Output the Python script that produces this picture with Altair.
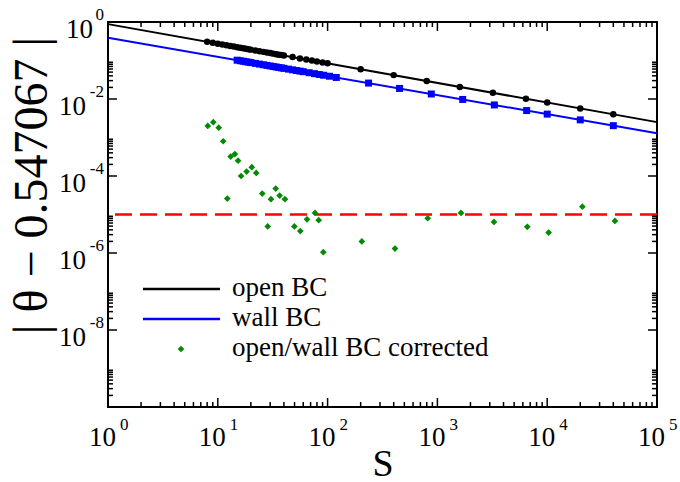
import altair as alt
import pandas as pd

# ---------------- data ----------------
OPEN_S = [8, 9, 10, 11, 12, 13, 14, 15, 16, 17, 18, 19, 20, 22, 24, 26, 28, 30, 32, 34, 36, 38, 40,
          48, 56, 64, 72, 80, 90, 100, 200, 400, 800, 1600, 3200, 6400, 10000, 20000, 40000]
OPEN_V = [0.305, 0.288, 0.2726, 0.2597, 0.2485, 0.2385, 0.2297, 0.2218, 0.2146, 0.2081, 0.2021, 0.1966, 0.1916,
          0.1825, 0.1746, 0.1676, 0.1614, 0.1558, 0.1508, 0.1462, 0.1420, 0.1381, 0.1346,
          0.1227, 0.1134, 0.1059, 0.0998, 0.0946, 0.0891, 0.0844,
          0.0593, 0.0417, 0.0293, 0.0206, 0.01446, 0.01017, 0.00810, 0.00569, 0.00400]

WALL_S = [15, 16, 17, 18, 19, 20, 22, 24, 26, 28, 30, 32, 34, 36, 38, 40, 44, 48, 52, 56, 60,
          68, 76, 84, 92, 104, 120, 236, 452, 880, 1700, 3300, 6500, 10000, 20000, 40000]
WALL_V = [0.1018, 0.0986, 0.0956, 0.0930, 0.0905, 0.0882,
          0.0842, 0.0806, 0.0775, 0.0747, 0.0722, 0.0699, 0.0678, 0.0659, 0.0642, 0.0626,
          0.0597, 0.0572, 0.0549, 0.0530, 0.0512,
          0.0481, 0.0455, 0.0433, 0.0414, 0.0390, 0.0363,
          0.0259, 0.0188, 0.0135, 0.00974, 0.00701, 0.00501, 0.00405, 0.00287, 0.00203]

FIT_S = [1, 100000]
OPEN_FIT_V = [0.88, 0.00251]
WALL_FIT_V = [0.39, 0.00129]

CORR_S = [8.1, 9.1, 10.2, 11.2, 12.2, 13.1, 14.3, 15.3, 16.3,
          18.3, 20.4, 22.4, 25.4, 28.5, 30.5, 33.7, 36.6, 40.9,
          49.8, 56.4, 64.9, 76.8, 83, 91.4,
          205, 411, 816, 1640, 3275, 6590, 10300, 20900, 41400]
CORR_V = [2.0e-3, 2.5e-3, 1.8e-3, 8e-4, 2.6e-5, 3.2e-4, 3.7e-4, 2.5e-4, 1.0e-4,
          1.3e-4, 1.7e-4, 1.2e-4, 3.5e-5, 4.9e-6, 2.5e-5, 4.7e-5, 3.1e-5, 2.5e-5,
          4.9e-6, 3.7e-6, 7.5e-6, 1.1e-5, 7.1e-6, 1.05e-6,
          2.0e-6, 1.3e-6, 8e-6, 1.1e-5, 6.4e-6, 4.8e-6, 3.4e-6, 1.6e-5, 6.8e-6]

THRESHOLD = [1e-5]

X_MAJOR = [1, 10, 100, 1000, 10000, 100000]
X_EXP = ["0", "1", "2", "3", "4", "5"]
X_MINOR = [m * 10 ** k for k in range(5) for m in range(2, 10)]
Y_MAJOR = [1, 1e-2, 1e-4, 1e-6, 1e-8]
Y_EXP = ["0", "-2", "-4", "-6", "-8"]
Y_MINOR = [m * 10.0 ** k for k in (-10, -8, -6, -4, -2) for m in range(2, 10)]

LEGEND_LABELS = ["open BC", "wall BC", "open/wall BC corrected"]
X_TITLE = "S"
Y_TITLE = "| θ − 0.547067 |"

# ---------------- chart ----------------
W, H = 549, 385
FONT = "'Liberation Serif', 'Times New Roman', 'DejaVu Serif', serif"
GREEN = "#008b00"

xs = alt.Scale(type="log", domain=[1, 100000], nice=False)
ys = alt.Scale(type="log", domain=[1e-10, 1], nice=False)

x_axis = alt.Axis(title=X_TITLE, labels=False, ticks=False, domain=False, grid=False,
                  titleFont=FONT, titleFontSize=38, titleFontWeight="normal", titleColor="black",
                  titleY=68, titleBaseline="alphabetic")
y_axis = alt.Axis(title=Y_TITLE, labels=False, ticks=False, domain=False, grid=False,
                  titleFont=FONT, titleFontSize=48, titleFontWeight="normal", titleColor="black",
                  titleX=-76, titleY=163, titleBaseline="middle", titleAngle=270)


def X(field):
    return alt.X(field, type="quantitative", scale=xs, axis=x_axis)


def Y(field):
    return alt.Y(field, type="quantitative", scale=ys, axis=y_axis)


open_fit = pd.DataFrame({"S": FIT_S, "v": OPEN_FIT_V})
wall_fit = pd.DataFrame({"S": FIT_S, "v": WALL_FIT_V})
open_pts = pd.DataFrame({"S": OPEN_S, "v": OPEN_V})
wall_pts = pd.DataFrame({"S": WALL_S, "v": WALL_V})
corr_pts = pd.DataFrame({"S": CORR_S, "v": CORR_V})
thr = pd.DataFrame({"v": THRESHOLD})

layers = []

# fit lines
layers.append(alt.Chart(open_fit).mark_line(color="black", strokeWidth=2).encode(
    x=X("S"), y=Y("v")))
layers.append(alt.Chart(wall_fit).mark_line(color="#0000ff", strokeWidth=2).encode(
    x=X("S"), y=Y("v")))

# red dashed reference
layers.append(alt.Chart(thr).mark_rule(color="#ff0000", strokeWidth=2.5, strokeDash=[17, 8]).encode(
    y=Y("v")))

# points
layers.append(alt.Chart(open_pts).mark_point(shape="circle", filled=True, size=42, color="black", opacity=1).encode(
    x=X("S"), y=Y("v")))
layers.append(alt.Chart(wall_pts).mark_point(shape="square", filled=True, size=49, color="#0000ff", opacity=1).encode(
    x=X("S"), y=Y("v")))
layers.append(alt.Chart(corr_pts).mark_point(shape="diamond", filled=True, size=45, color=GREEN, opacity=1).encode(
    x=X("S"), y=Y("v")))

# inward ticks
xmaj = pd.DataFrame({"S": X_MAJOR, "e": X_EXP})
xmin = pd.DataFrame({"S": X_MINOR})
ymaj = pd.DataFrame({"v": Y_MAJOR, "e": Y_EXP})
ymin = pd.DataFrame({"v": Y_MINOR})
for df, ln in ((xmaj, 9), (xmin, 5)):
    layers.append(alt.Chart(df).mark_rule(color="black", strokeWidth=1.5).encode(
        x=X("S"), y=alt.value(H), y2=alt.value(H - ln)))
    layers.append(alt.Chart(df).mark_rule(color="black", strokeWidth=1.5).encode(
        x=X("S"), y=alt.value(0), y2=alt.value(ln)))
for df, ln in ((ymaj, 9), (ymin, 5)):
    layers.append(alt.Chart(df).mark_rule(color="black", strokeWidth=1.5).encode(
        y=Y("v"), x=alt.value(0), x2=alt.value(ln)))
    layers.append(alt.Chart(df).mark_rule(color="black", strokeWidth=1.5).encode(
        y=Y("v"), x=alt.value(W), x2=alt.value(W - ln)))

# tick labels: 10^k
layers.append(alt.Chart(xmaj).mark_text(font=FONT, fontSize=27, align="right", baseline="alphabetic",
                                        dx=8, color="black").encode(
    x=X("S"), y=alt.value(H + 39), text=alt.value("10")))
layers.append(alt.Chart(xmaj).mark_text(font=FONT, fontSize=17, align="left", baseline="alphabetic",
                                        dx=12, color="black").encode(
    x=X("S"), y=alt.value(H + 23), text="e:N"))

layers.append(alt.Chart(ymaj).mark_text(font=FONT, fontSize=17, align="right", baseline="alphabetic",
                                        dy=-2, color="black").encode(
    y=Y("v"), x=alt.value(-4), text="e:N"))
layers.append(alt.Chart(ymaj).transform_filter("datum.v == 1").mark_text(
    font=FONT, fontSize=27, align="right", baseline="alphabetic", dy=16, color="black").encode(
    y=Y("v"), x=alt.value(-15), text=alt.value("10")))
layers.append(alt.Chart(ymaj).transform_filter("datum.v != 1").mark_text(
    font=FONT, fontSize=27, align="right", baseline="alphabetic", dy=16, color="black").encode(
    y=Y("v"), x=alt.value(-22), text=alt.value("10")))

# legend
leg_rows = [267, 297, 327]
for lab, row, col in ((LEGEND_LABELS[0], leg_rows[0], "black"), (LEGEND_LABELS[1], leg_rows[1], "#0000ff")):
    d = pd.DataFrame({"label": [lab]})
    layers.append(alt.Chart(d).mark_rule(color=col, strokeWidth=2.5).encode(
        x=alt.value(35), x2=alt.value(112), y=alt.value(row)))
d3 = pd.DataFrame({"label": [LEGEND_LABELS[2]]})
layers.append(alt.Chart(d3).mark_point(shape="diamond", filled=True, size=45, color=GREEN, opacity=1).encode(
    x=alt.value(73), y=alt.value(leg_rows[2])))
for lab, row in zip(LEGEND_LABELS, leg_rows):
    d = pd.DataFrame({"label": [lab]})
    layers.append(alt.Chart(d).mark_text(font=FONT, fontSize=27, align="left", baseline="alphabetic",
                                         color="black").encode(
        x=alt.value(124), y=alt.value(row + 7), text="label:N"))

chart = alt.layer(*layers).properties(
    width=W, height=H,
    padding={"left": 108, "top": 22, "right": 23, "bottom": 75},
    autosize=alt.AutoSizeParams(type="none"),
    background="white",
).configure_view(stroke="black", strokeWidth=2)

chart.save("out.html", embed_options={"renderer": "svg", "actions": False})
